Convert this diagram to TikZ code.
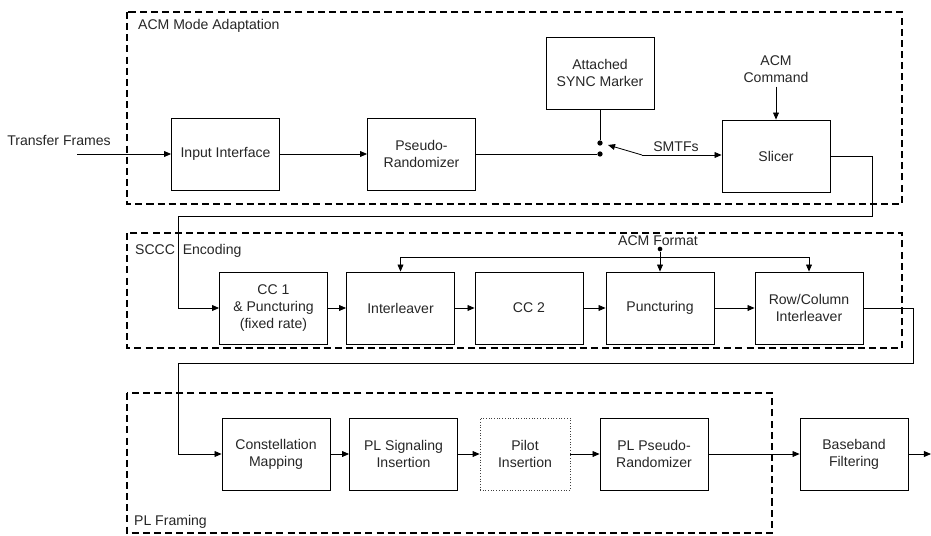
\documentclass[tikz,border=0pt]{standalone}
\usepackage{fontspec}
\setmainfont{Liberation Sans}
\usetikzlibrary{arrows.meta, positioning, calc}
\tikzset{
  block/.style  = {rectangle, draw, line width=0.7pt, minimum width=3.24cm,
                   minimum height=2.16cm, align=center, inner sep=1pt},
  blockD/.style = {block, draw=black!75, line width=0.6pt,
                   dash pattern=on 0.7pt off 1.6pt, minimum width=2.7cm},
  frame/.style  = {draw, line width=1.1pt, dash pattern=on 6pt off 3.5pt},
  ftitle/.style = {anchor=west},
  dot/.style    = {circle, fill, inner sep=0pt, minimum size=4.5pt},
  arrow/.style  = {line width=0.7pt, -{Triangle[length=6pt,width=5pt]}},
  wire/.style   = {line width=0.7pt},
}

\begin{document}
\begin{tikzpicture}[x=0.03cm, y=-0.03cm,
    every node/.style={font=\fontsize{12}{14.5}\selectfont, text=black!85}]
    \useasboundingbox (0,0) rectangle (931,535);

    %% ===================== ACM MODE ADAPTATION =====================
    \draw[frame] (127,12) rectangle (902,204);
    \node[ftitle] (acmT) at (134,26) {ACM Mode Adaptation};

    \node (tfl) at (59,140) {Transfer Frames};
    \coordinate (tfin) at (77,154);

    \node[block] (input)  at (225.5,154) {Input Interface};
    \node[block] (prand)  at (421.5,154) {Pseudo-\\Randomizer};
    \node[block] (asm)    at (600,73)    {Attached\\SYNC Marker};
    \node[block] (slicer) at (776,156)   {Slicer};
    \node[align=center] (acmCmd) at (776,69) {ACM\\Command};

    \node[dot] (swA) at (600,143) {};
    \node[dot] (swB) at (600,154) {};
    \coordinate (pivot) at (642,155);
    \node (smtf) at (676,147) {SMTFs};

    \draw[arrow] (tfin)  -- (input.west);
    \draw[arrow] (input) -- (prand);
    \draw[wire]  (prand.east |- swB) -- (swB);
    \draw[wire]  (asm.south) -- (swA);
    \draw[arrow] (pivot) -- ($(swA)+(8,2)$);
    \draw[arrow] (pivot) -- (slicer.west |- pivot);
    \draw[arrow] (acmCmd) -- (slicer.north);

    %% ===================== SCCC ENCODING =====================
    \draw[frame] (127,233) rectangle (902,348);
    \node[ftitle] (scccT) at (131,251) {SCCC\ \ Encoding};

    \node[block] (cc1)    at (273.5,308) {CC 1\\\& Puncturing\\(fixed rate)};
    \node[block] (inter)  at (400.5,308) {Interleaver};
    \node[block] (cc2)    at (529,308)   {CC 2};
    \node[block] (punct)  at (660,308)   {Puncturing};
    \node[block] (rowcol) at (809,308)   {Row/Column\\Interleaver};

    \node (fmt) at (658,241) {ACM Format};
    \node[dot, minimum size=4pt] (fmtDot) at (660,249) {};
    \coordinate (fmtBus) at (660,257);

    %% Inter-stage loop ACM -> SCCC
    \coordinate (loopA) at (872,216);
    \coordinate (loopB) at (178,308);
    \draw[arrow] (slicer.east) -| (loopA) -| (loopB) -- (cc1.west);

    \draw[arrow] (cc1)   -- (inter);
    \draw[arrow] (inter) -- (cc2);
    \draw[arrow] (cc2)   -- (punct);
    \draw[arrow] (punct) -- (rowcol);
    \draw[arrow] (fmtDot) -- (punct.north);
    \draw[arrow] (fmtBus) -| (inter.north);
    \draw[arrow] (fmtBus) -| (rowcol.north);

    %% ===================== PL FRAMING =====================
    \draw[frame] (127,393) rectangle (772,533);
    \node[ftitle] (plT) at (130,522) {PL Framing};

    \node[block]  (const) at (276,454)   {Constellation\\Mapping};
    \node[block]  (plsig) at (403.5,454) {PL Signaling\\Insertion};
    \node[blockD] (pilot) at (525,454)   {Pilot\\Insertion};
    \node[block]  (plprn) at (654,454)   {PL Pseudo-\\Randomizer};
    \node[block]  (bbf)   at (854,454)   {Baseband\\Filtering};
    \coordinate (out) at (931,454);

    %% Inter-stage loop SCCC -> PL
    \coordinate (loopC) at (913,363);
    \coordinate (loopD) at (178,454);
    \draw[arrow] (rowcol.east) -| (loopC) -| (loopD) -- (const.west);

    \draw[arrow] (const) -- (plsig);
    \draw[arrow] (plsig) -- (pilot);
    \draw[arrow] (pilot) -- (plprn);
    \draw[arrow] (plprn) -- (bbf);
    \draw[arrow] (bbf)   -- (out);

\end{tikzpicture}
\end{document}
